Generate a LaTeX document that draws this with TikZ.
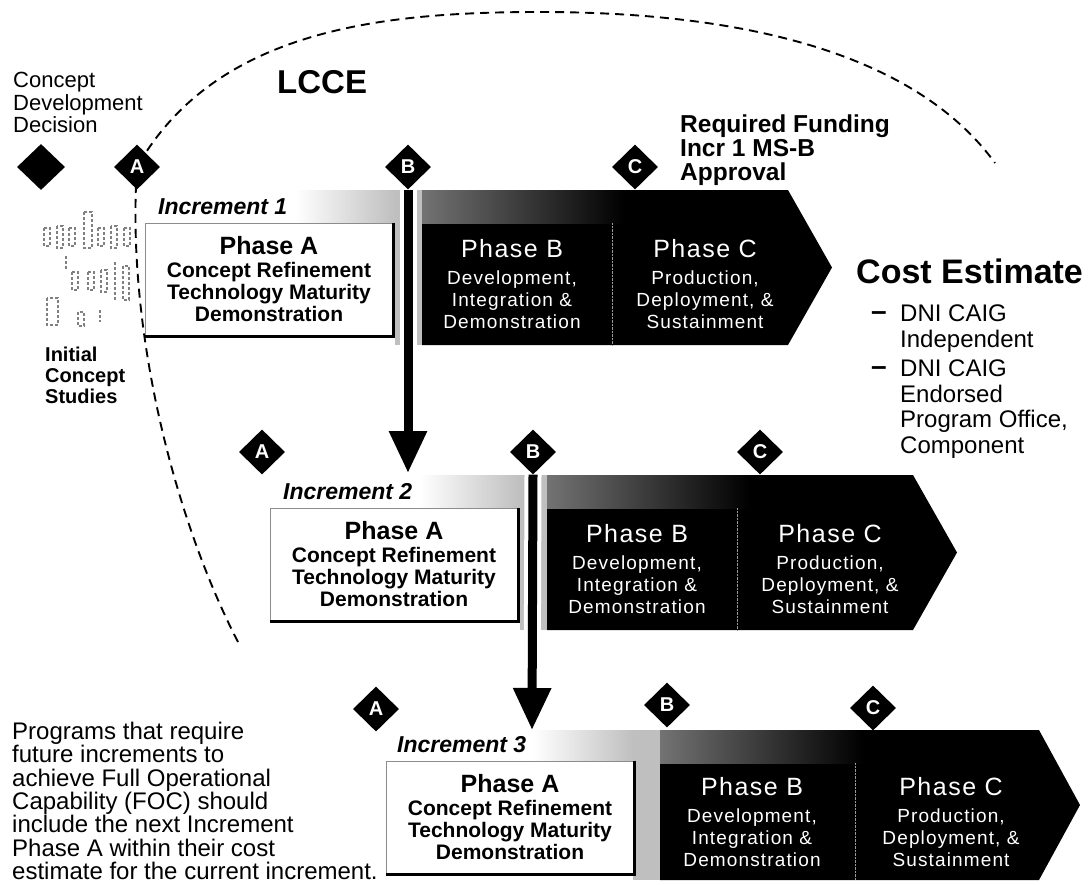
\documentclass[tikz,border=0pt]{standalone}
\usepackage{fontspec}
\setmainfont{Liberation Sans}
\newfontfamily\spaced[LetterSpace=6]{Liberation Sans}
\usetikzlibrary{shapes.geometric,arrows.meta,positioning,backgrounds}
\newcommand{\fsz}[2]{\fontsize{#1}{#2}\selectfont}
\newcommand{\phaseAtext}{{\fsz{25}{26}Phase A}\\[1pt]Concept Refinement\\Technology Maturity\\Demonstration}
\newcommand{\phaseBtext}{{\fsz{25}{26}Phase B}\\[5pt]Development,\\Integration \&\\Demonstration}
\newcommand{\phaseCtext}{{\fsz{25}{26}Phase C}\\[5pt]Production,\\Deployment, \&\\Sustainment}

\begin{document}
\begin{tikzpicture}[x=1pt, y=-1pt,
      mstone/.style={diamond, fill=black, text=white, inner sep=0pt,
                     minimum width=46pt, minimum height=45pt,
                     font=\bfseries\fsz{20}{20}},
      phasea/.style={rectangle, fill=white, draw=black!45, line width=0.6pt,
                     minimum width=248pt, minimum height=113pt, inner sep=0pt,
                     align=center, font=\bfseries\fsz{21}{22}},
      phasebc/.style={text=white, align=center, inner sep=0pt,
                      font=\spaced\fsz{19}{22}},
      incr/.style={anchor=west, inner sep=0pt, font=\bfseries\itshape\fsz{23}{23}},
      txt/.style={anchor=north west, inner sep=0pt, align=left},
      lcce/.style={dash pattern=on 9pt off 6pt, line width=1.9pt},
      shaft/.style={line width=9pt, -{Triangle[length=42pt, width=36pt]}},
      halo/.style={white, line width=17pt}]
    \useasboundingbox (0,0) rectangle (1091,884);
    % ----- left column
    \node[txt, font=\fsz{22}{22.5}] (cdd) at (13,72)
      {Concept\\Development\\Decision};
    \node[mstone, minimum width=48pt, minimum height=46pt] (dec) at (41,167) {};
    \draw[black!50, line width=1.2pt, densely dashed]
      (44,228) rectangle (50,246) (57,226) rectangle (63,248)
      (69,228) rectangle (75,246) (84,212) rectangle (92,248)
      (98,228) rectangle (104,246) (111,226) rectangle (117,248)
      (124,228) rectangle (130,246) (66,256) -- (66,270)
      (72,272) rectangle (78,290) (88,272) rectangle (94,290)
      (101,270) rectangle (107,292) (115,262) -- (115,300)
      (123,266) rectangle (129,300) (47,298) rectangle (58,325)
      (78,312) rectangle (84,326) (100,310) -- (100,322);
    \node[txt, font=\bfseries\fsz{20}{21}] (ics) at (45,347)
      {Initial\\Concept\\Studies};
    \node[txt, font=\fsz{24}{23.3}] (foc) at (12,722)
      {Programs that require\\future increments to\\achieve Full Operational\\%
       Capability (FOC) should\\include the next Increment\\Phase A within their cost\\%
       estimate for the current increment.};
    % ----- top and right texts
    \node[txt, font=\bfseries\fsz{33}{33}] (lcce) at (277,70) {LCCE};
    \node[txt, font=\bfseries\fsz{24.5}{24}] (fund) at (680,115)
      {Required Funding\\Incr 1 MS-B\\Approval};
    \node[txt, font=\bfseries\fsz{34}{34}] (cost) at (856,259) {Cost Estimate};
    \node[font=\bfseries\fsz{28}{28}, inner sep=0pt] (d1) at (879,316) {--};
    \node[txt, font=\fsz{24}{25.5}] (ce1) at (900,305) {DNI CAIG\\Independent};
    \node[font=\bfseries\fsz{28}{28}, inner sep=0pt] (d2) at (879,371) {--};
    \node[txt, font=\fsz{24}{25.5}] (ce2) at (900,360)
      {DNI CAIG\\Endorsed\\Program Office,\\Component};
    % ----- increment 1
    \begin{scope}[shift={(145,223)}]
      \fill[black!25] (250,-33) rectangle (277,122);
      \shade[left color=white, right color=black!25] (150,-33) rectangle (250,0);
      \fill (277,-33) -- (643,-33) -- (687,44.5) -- (643,122) -- (277,122) -- cycle;
      \shade[left color=black!55, right color=black] (277,-33) rectangle (480,0);
      \draw[black!40, densely dotted] (467,0) -- (467,122);
      \node[phasea] (pa1) at (124,56.5) {\phaseAtext};
      \draw[line width=3pt] (pa1.north east) -- (pa1.south east) -- (pa1.south west);
      \node[phasebc] (pb1) at (367,61) {\phaseBtext};
      \node[phasebc] (pc1) at (560,61) {\phaseCtext};
      \node[incr] (inc1) at (13,-16) {Increment 1};
      \node[mstone] (a1) at (-8,-56) {A};
      \node[mstone] (b1) at (263,-56) {B};
      \node[mstone] (c1) at (490,-56) {C};
    \end{scope}
    % ----- increment 2
    \begin{scope}[shift={(270,508)}]
      \fill[black!25] (250,-33) rectangle (277,122);
      \shade[left color=white, right color=black!25] (150,-33) rectangle (250,0);
      \fill (277,-33) -- (643,-33) -- (687,44.5) -- (643,122) -- (277,122) -- cycle;
      \shade[left color=black!55, right color=black] (277,-33) rectangle (480,0);
      \draw[black!40, densely dotted] (467,0) -- (467,122);
      \node[phasea] (pa2) at (124,56.5) {\phaseAtext};
      \draw[line width=3pt] (pa2.north east) -- (pa2.south east) -- (pa2.south west);
      \node[phasebc] (pb2) at (367,61) {\phaseBtext};
      \node[phasebc] (pc2) at (560,61) {\phaseCtext};
      \node[incr] (inc2) at (13,-16) {Increment 2};
      \coordinate (t2) at (138,-35);
      \node[mstone] (a2) at (-8,-56) {A};
      \node[mstone] (b2) at (263,-56) {B};
      \node[mstone] (c2) at (490,-56) {C};
    \end{scope}
    % ----- increment 3
    \begin{scope}[shift={(383,763)}]
      \fill[black!25] (250,-33) rectangle (277,117);
      \shade[left color=white, right color=black!25] (150,-33) rectangle (250,0);
      \fill (277,-33) -- (656,-33) -- (697,42) -- (656,117) -- (277,117) -- cycle;
      \shade[left color=black!55, right color=black] (277,-33) rectangle (480,0);
      \draw[black!40, densely dotted] (472,0) -- (472,117);
      \node[phasea] (pa3) at (127,54.5) {\phaseAtext};
      \draw[line width=3pt] (pa3.north east) -- (pa3.south east) -- (pa3.south west);
      \node[phasebc] (pb3) at (369,59) {\phaseBtext};
      \node[phasebc] (pc3) at (568,59) {\phaseCtext};
      \node[incr] (inc3) at (14,-18) {Increment 3};
      \coordinate (t3) at (149,-33);
      \node[mstone] (a3) at (-7,-54) {A};
      \node[mstone] (b3) at (284,-58) {B};
      \node[mstone] (c3) at (490,-55) {C};
    \end{scope}
    % ----- hand-over arrows
    \draw[halo] (b1.south) -- (t2);
    \draw[shaft] (b1.south) -- (t2);
    \draw[halo] (b2.south) -- (t3);
    \draw[shaft] (b2.south) -- (t3);
    % ----- LCCE boundary
    \begin{scope}[on background layer]
      \draw[lcce] (238,642) .. controls (175,520) and (126,330) .. (a1.center)
        .. controls (215,30) and (380,12) .. (540,12)
        .. controls (760,12) and (920,60) .. (995,163);
    \end{scope}
\end{tikzpicture}
\end{document}
